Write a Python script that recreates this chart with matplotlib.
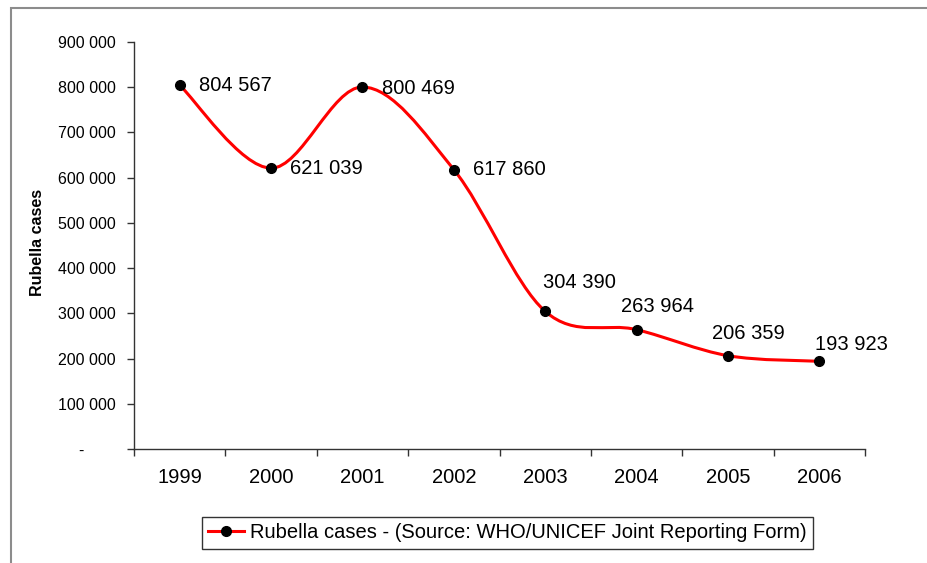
import numpy as np
import matplotlib.pyplot as plt
from matplotlib.path import Path
from matplotlib.patches import PathPatch, Rectangle
from matplotlib.lines import Line2D

plt.rcParams['font.family'] = ['Liberation Sans', 'DejaVu Sans']

# === Data
years = ['1999', '2000', '2001', '2002', '2003', '2004', '2005', '2006']
cases = [804567, 621039, 800469, 617860, 304390, 263964, 206359, 193923]
y_ticks = [0, 100000, 200000, 300000, 400000, 500000, 600000, 700000, 800000, 900000]
y_tick_labels = ['-       ', '100 000', '200 000', '300 000', '400 000', '500 000',
                 '600 000', '700 000', '800 000', '900 000']
legend_label = 'Rubella cases - (Source: WHO/UNICEF Joint Reporting Form)'

# label offsets in pixels (manual placement like the original)
label_offsets = [(19, 0), (19, 0), (20, -1), (19, 0), (-2, 29), (-16, 23), (-16, 22), (-4, 17)]


def smooth_path(xs, ys):
    # Excel-style smoothed line: cubic Bezier through points (Catmull-Rom control points)
    pts = np.column_stack([xs, ys]).astype(float)
    n = len(pts)
    verts = [pts[0]]
    codes = [Path.MOVETO]
    for i in range(n - 1):
        p0 = pts[i - 1] if i > 0 else pts[i]
        p1 = pts[i]
        p2 = pts[i + 1]
        p3 = pts[i + 2] if i + 2 < n else pts[i + 1]
        c1 = p1 + (p2 - p0) / 6.0
        c2 = p2 - (p3 - p1) / 6.0
        verts += [c1, c2, p2]
        codes += [Path.CURVE4] * 3
    return Path(verts, codes)


fig = plt.figure(figsize=(9.27, 5.63), dpi=100)
ax = fig.add_axes([134 / 927, 1 - 449 / 563, (865 - 134) / 927, (449 - 42) / 563])

x = np.arange(len(years))
ax.add_patch(PathPatch(smooth_path(x, cases), facecolor='none', edgecolor='#ff0000',
                       lw=2.2, capstyle='round', joinstyle='round', zorder=2))
ax.plot(x, cases, 'o', color='black', markersize=7, zorder=3)

for i, v in enumerate(cases):
    txt = f'{v:,}'.replace(',', ' ')
    dx, dy = label_offsets[i]
    ax.annotate(txt, (x[i], v), xytext=(dx, dy), textcoords='offset pixels',
                ha='left', va='center', fontsize=14.5, color='black')

ax.set_xlim(-0.5, len(years) - 0.5)
ax.set_ylim(0, 900000)
ax.set_yticks(y_ticks)
ax.set_yticklabels(y_tick_labels, fontsize=11.5)
ax.set_xticks(x)
ax.set_xticklabels(years, fontsize=14.5)
ax.set_xticks(np.arange(-0.5, len(years)), minor=True)
ax.tick_params(axis='x', which='major', length=0, pad=14)
ax.tick_params(axis='x', which='minor', length=5, width=1, direction='out', color='#333333')
ax.tick_params(axis='y', length=5, width=1, direction='out', pad=8, color='#333333')
for s in ['top', 'right']:
    ax.spines[s].set_visible(False)
for s in ['left', 'bottom']:
    ax.spines[s].set_color('#333333')
    ax.spines[s].set_linewidth(1)

fig.text(38 / 927, 1 - 242 / 563, 'Rubella cases', rotation=90, ha='center', va='center',
         fontsize=11.5, fontweight='bold')

handle = Line2D([], [], color='#ff0000', lw=2.2, marker='o', markersize=7,
                markerfacecolor='black', markeredgecolor='black')
leg = fig.legend([handle], [legend_label], loc='center',
                 bbox_to_anchor=(507 / 927, 1 - 533 / 563), fontsize=14.5,
                 frameon=True, fancybox=False, handlelength=1.8, handletextpad=0.3,
                 borderpad=0.3, borderaxespad=0)
leg.get_frame().set_edgecolor('black')
leg.get_frame().set_linewidth(1)

# outer chart border (cut off at right and bottom like the original)
fig.patches.append(Rectangle((11 / 927, -0.1), 1.2, 1 - 8 / 563 + 0.1,
                             transform=fig.transFigure, fill=False,
                             edgecolor='#8c8c8c', lw=1.5))

fig.savefig('out.png', dpi=100)
